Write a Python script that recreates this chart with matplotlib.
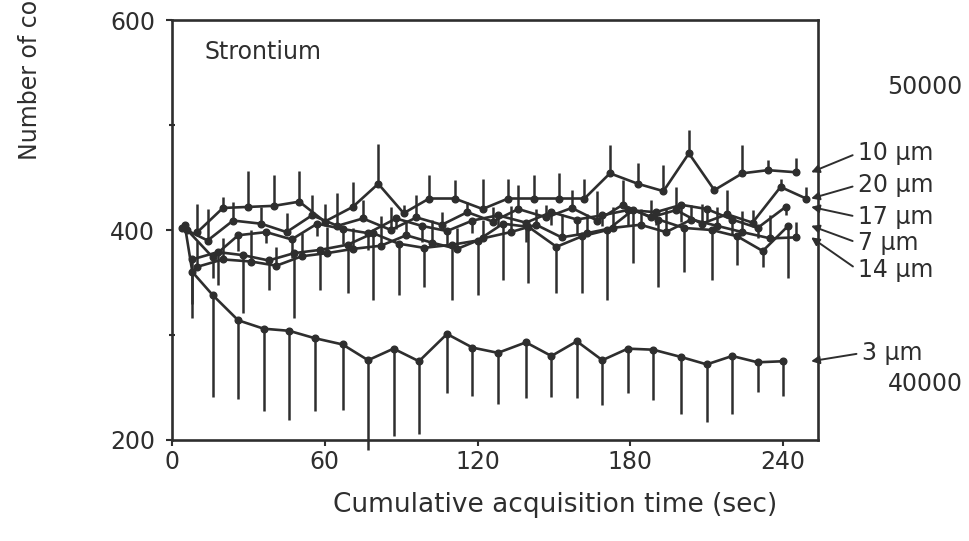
import matplotlib
matplotlib.use("Agg")
import matplotlib.pyplot as plt
from matplotlib.ticker import FixedLocator

plt.rcParams["font.family"] = ["DejaVu Sans"]

INK = "#2e2e2e"

# cumulative acquisition time (s) and counts for each grain size
t3 = [5, 8, 16, 26, 36, 46, 56, 67, 77, 87, 97, 108, 118, 128, 139, 149, 159, 169, 179, 189, 200, 210, 220, 230, 240]
v3 = [405, 360, 338, 314, 306, 304, 297, 291, 276, 287, 275, 301, 288, 283, 293, 280, 294, 276, 287, 286, 279, 272, 280, 274, 275]
e3_dn = [0, 44, 97, 75, 78, 85, 69, 62, 86, 83, 69, 56, 46, 49, 53, 39, 54, 43, 42, 48, 54, 55, 55, 28, 33]

t10 = [10, 20, 30, 40, 50, 60, 71, 81, 91, 101, 111, 122, 132, 142, 152, 162, 172, 183, 193, 203, 213, 224, 234, 245]
v10 = [398, 421, 422, 423, 427, 408, 422, 444, 416, 430, 430, 420, 430, 430, 430, 430, 454, 444, 437, 473, 438, 454, 457, 455]
e10_up = [27, 10, 34, 29, 29, 17, 24, 38, 8, 22, 18, 29, 19, 22, 24, 19, 27, 20, 25, 22, 4, 27, 10, 14]

t20 = [4, 14, 24, 35, 45, 55, 65, 75, 86, 96, 106, 116, 126, 136, 147, 157, 167, 177, 188, 198, 208, 218, 228, 239, 249]
v20 = [402, 390, 409, 406, 398, 414, 404, 411, 400, 412, 405, 417, 408, 420, 412, 421, 409, 424, 412, 419, 406, 415, 407, 441, 430]
e20_up = [0, 30, 18, 16, 18, 19, 31, 18, 22, 21, 12, 10, 14, 23, 12, 17, 28, 24, 17, 22, 19, 23, 12, 8, 11]

t17 = [6, 16, 26, 37, 47, 57, 67, 77, 88, 98, 108, 118, 128, 139, 149, 159, 169, 179, 190, 200, 210, 220, 230, 241]
v17 = [400, 374, 395, 398, 391, 406, 401, 397, 411, 404, 399, 409, 414, 407, 417, 410, 414, 419, 417, 424, 420, 410, 402, 422]
e17_dn = [0, 20, 15, 10, 18, 12, 14, 16, 10, 15, 14, 12, 10, 18, 12, 15, 10, 14, 12, 16, 12, 15, 10, 8]

t7 = [8, 18, 28, 38, 48, 58, 69, 79, 89, 99, 110, 120, 130, 140, 151, 161, 171, 181, 191, 201, 212, 222, 232, 242]
v7 = [372, 379, 376, 371, 378, 381, 386, 397, 387, 383, 386, 390, 406, 403, 384, 394, 400, 419, 410, 402, 400, 394, 380, 404]
e7_dn = [42, 31, 55, 28, 62, 38, 46, 64, 49, 37, 53, 52, 54, 53, 44, 54, 67, 50, 64, 42, 48, 27, 15, 50]

t14 = [10, 20, 31, 41, 51, 61, 71, 82, 92, 102, 112, 122, 133, 143, 153, 163, 173, 184, 194, 204, 214, 224, 235, 245]
v14 = [365, 372, 370, 366, 375, 378, 382, 385, 395, 388, 382, 392, 398, 405, 393, 397, 402, 405, 398, 410, 404, 398, 392, 393]
e14_up = [25, 20, 30, 18, 22, 25, 20, 28, 15, 22, 20, 18, 25, 15, 22, 18, 20, 15, 22, 14, 18, 20, 22, 15]

# label text, anchor of the label in figure pixels (left, centre)
series = [
    ("10 \u00b5m", t10, v10, [0] * len(v10), e10_up, (858, 388)),
    ("20 \u00b5m", t20, v20, [0] * len(v20), e20_up, (858, 356)),
    ("17 \u00b5m", t17, v17, e17_dn, [0] * len(v17), (858, 324)),
    ("7 \u00b5m", t7, v7, e7_dn, [0] * len(v7), (858, 298)),
    ("14 \u00b5m", t14, v14, [0] * len(v14), e14_up, (858, 271)),
    ("3 \u00b5m", t3, v3, e3_dn, [0] * len(v3), (862, 188)),
]

fig = plt.figure(figsize=(9.7, 5.41), dpi=100)
ax = fig.add_axes([0.1773, 0.1867, 0.6660, 0.7763])

for label, t, v, lo, hi, txt in series:
    cont = ax.errorbar(t, v, yerr=[lo, hi], fmt="-o", color=INK, lw=1.9, ms=4.8,
                       elinewidth=1.8, capsize=0)
    for art in cont.get_children():
        art.set_clip_on(False)
    ax.annotate(label, xy=(251, v[-1]), xycoords="data", xytext=txt,
                textcoords="figure pixels", ha="left", va="center",
                fontsize=17, color=INK, annotation_clip=False,
                arrowprops=dict(arrowstyle="-|>", color=INK, lw=1.4,
                                shrinkA=2, shrinkB=0, mutation_scale=12,
                                relpos=(0, 0.5)))

ax.set_xlim(0, 253.7)
ax.set_ylim(200, 600)
ax.set_xticks([0, 60, 120, 180, 240])
ax.set_yticks([200, 400, 600])
ax.yaxis.set_minor_locator(FixedLocator([300, 500]))
ax.tick_params(axis="both", which="major", direction="out", length=4, width=1.5,
               color=INK, labelcolor=INK, labelsize=17)
ax.tick_params(axis="y", which="major", pad=8)
ax.tick_params(axis="x", which="major", pad=3)
ax.tick_params(axis="y", which="minor", direction="inout", length=4, width=1.5, color=INK)
for sp in ax.spines.values():
    sp.set_linewidth(1.9)
    sp.set_color(INK)

ax.text(0.05, 0.924, "Strontium", transform=ax.transAxes, fontsize=17,
        color=INK, ha="left", va="center")

fig.text(0.572, 1 - 505 / 541, "Cumulative acquisition time (sec)", ha="center",
         va="center", fontsize=19, color=INK)
fig.text(0.031, 1 - 160 / 541, "Number of counts", rotation=90, ha="center",
         va="bottom", fontsize=17, color=INK)
fig.text(0.9536, 1 - 87 / 541, "50000", ha="center", va="center", fontsize=17, color=INK)
fig.text(0.9536, 1 - 384 / 541, "40000", ha="center", va="center", fontsize=17, color=INK)

fig.savefig("out.png", dpi=100)
